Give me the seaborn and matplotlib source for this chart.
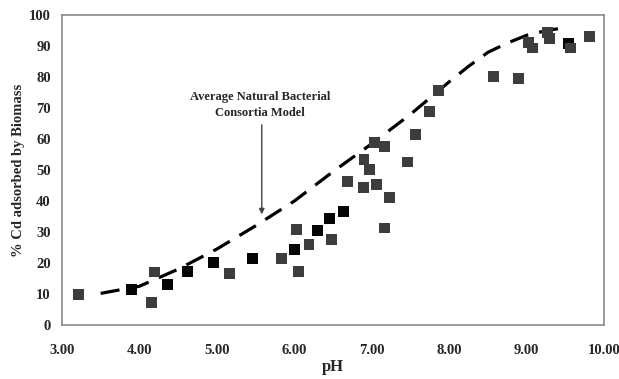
import matplotlib
matplotlib.use("Agg")
import matplotlib.pyplot as plt
import seaborn as sns
import pandas as pd

# Measured data (black squares)
ph_black = [3.90, 4.36, 4.62, 4.96, 5.46, 6.00, 6.30, 6.46, 6.63, 9.54]
cd_black = [11.6, 13.2, 17.4, 20.3, 21.6, 24.5, 30.6, 34.5, 36.5, 90.9]

# Measured data (gray squares)
ph_gray = [3.21, 4.16, 4.20, 5.16, 5.84, 6.03, 6.05, 6.19, 6.48, 6.69, 6.89, 6.90,
           6.97, 7.04, 7.06, 7.16, 7.17, 7.23, 7.46, 7.57, 7.75, 7.86, 8.57, 8.89,
           9.02, 9.07, 9.27, 9.29, 9.57, 9.81]
cd_gray = [9.7, 7.4, 17.1, 16.5, 21.6, 30.9, 17.4, 26.1, 27.7, 46.2, 44.3, 53.5,
           50.2, 58.8, 45.2, 57.5, 31.3, 41.2, 52.6, 61.4, 68.9, 75.8, 80.3, 79.7,
           91.3, 89.4, 94.5, 92.6, 89.4, 93.2]

# Model curve
ph_model = [3.5, 4.0, 4.5, 5.0, 5.5, 6.0, 6.5, 7.0, 7.5, 8.0, 8.25, 8.5, 8.75, 9.0, 9.25, 9.5]
cd_model = [10.2, 12.5, 18.0, 24.5, 32.0, 40.0, 49.5, 58.5, 68.0, 78.5, 83.5, 88.0, 91.0, 93.5, 95.0, 96.0]

x_ticks = [3, 4, 5, 6, 7, 8, 9, 10]
y_ticks = [0, 10, 20, 30, 40, 50, 60, 70, 80, 90, 100]

sns.set_style("white")
plt.rcParams['font.family'] = ['Liberation Serif', 'DejaVu Serif']

df = pd.DataFrame({
    "pH": ph_black + ph_gray,
    "Cd": cd_black + cd_gray,
    "grp": ["black"] * len(ph_black) + ["gray"] * len(ph_gray),
})
model = pd.DataFrame({"pH": ph_model, "Cd": cd_model})

fig = plt.figure(figsize=(6.19, 3.79), dpi=100)
ax = fig.add_axes([0.100, 0.1425, 0.876, 0.8175])

sns.lineplot(data=model, x="pH", y="Cd", ax=ax, color="black", linewidth=2.3,
             dashes=False, sort=True)
ax.lines[0].set_dashes([6, 3.5])

sns.scatterplot(data=df, x="pH", y="Cd", hue="grp",
                palette={"black": "#050505", "gray": "#3d3d3d"},
                marker="s", s=62, edgecolor="none", legend=False, ax=ax, zorder=3)

ax.set_xlim(3, 10)
ax.set_ylim(0, 100)
ax.set_xticks(x_ticks)
ax.set_xticklabels([f"{v:.2f}" for v in x_ticks])
ax.set_yticks(y_ticks)
ax.set_yticklabels([str(v) for v in y_ticks])

for s in ax.spines.values():
    s.set_color("#8a8a8a")
    s.set_linewidth(1.2)
ax.tick_params(axis="both", direction="out", length=4, width=1.2, color="#8a8a8a",
               labelsize=10.5, pad=4)
for lab in ax.get_xticklabels() + ax.get_yticklabels():
    lab.set_fontweight("bold")
ax.tick_params(axis="x", pad=10)

ax.set_xlabel("pH", fontsize=12, fontweight="bold", labelpad=1)
ax.set_ylabel("% Cd adsorbed by Biomass", fontsize=10.5, fontweight="bold", labelpad=3)

ax.annotate("", xy=(5.58, 34.8), xytext=(5.58, 65.5),
            arrowprops=dict(arrowstyle="-|>", color="#444444", lw=1.0,
                            mutation_scale=8))
ax.text(5.56, 71, "Average Natural Bacterial\nConsortia Model", ha="center",
        va="center", fontsize=9, fontweight="bold", linespacing=1.45)

fig.savefig("out.png", dpi=100)
